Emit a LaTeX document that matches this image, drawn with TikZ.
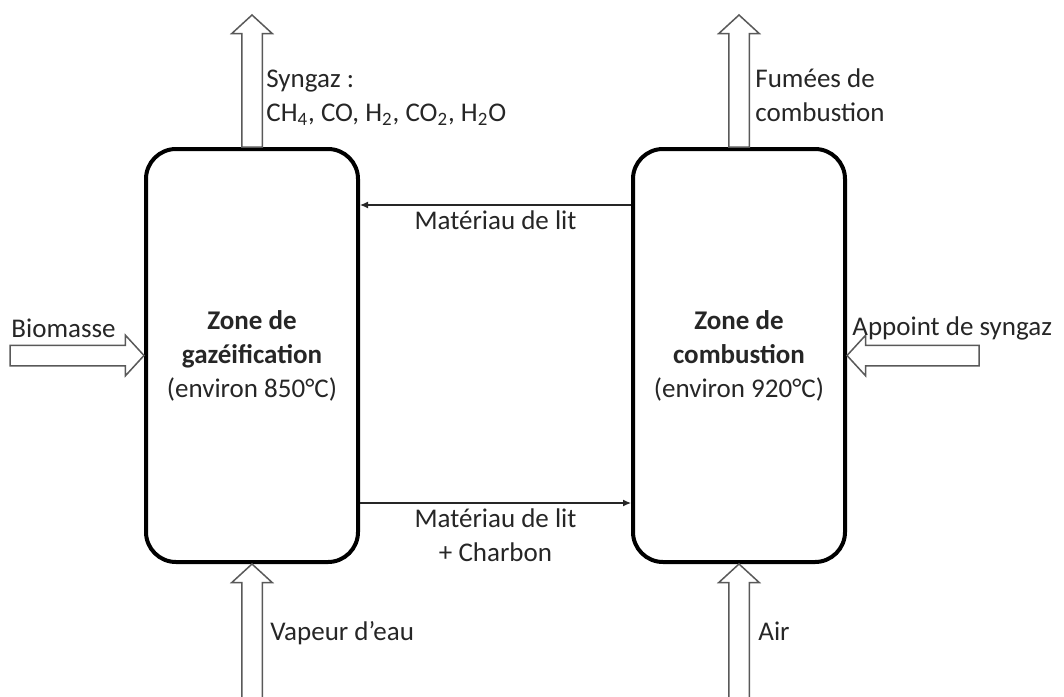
\documentclass[tikz,border=0pt]{standalone}
\usepackage{fontspec}
\setmainfont{Carlito}
\usetikzlibrary{shapes.arrows, arrows.meta, positioning}
\definecolor{gzInk}{HTML}{262626}
\definecolor{gzGray}{HTML}{595959}
\newcommand{\gzfont}{\fontsize{13.5}{17}\selectfont}
\tikzset{
  gzzone/.style={rectangle, rounded corners=15pt, draw=black, line width=2pt,
                 align=center, minimum width=106pt, minimum height=206.5pt,
                 text=gzInk, font=\gzfont},
  gzflux/.style={single arrow, draw=gzGray, fill=white, line width=0.75pt,
                 inner xsep=0pt, inner ysep=4.75pt, outer sep=0pt,
                 single arrow head extend=5pt, single arrow tip angle=95,
                 minimum width=19.5pt},
  gzlink/.style={-{Latex[length=4pt,width=3.5pt]}, line width=0.6pt, color=gzInk},
  gzlabel/.style={font=\gzfont, text=gzInk, inner sep=0pt, align=left},
}

\begin{document}
\begin{tikzpicture}[x=0.5pt, y=-0.5pt]
  \useasboundingbox (0,0) rectangle (1064,696);
  \node[gzzone] (gaz) at (252,355.5) {\textbf{Zone de}\\\textbf{gazéification}\\(environ 850°C)};
  \node[gzzone, right=135.5pt of gaz] (comb) {\textbf{Zone de}\\\textbf{combustion}\\(environ 920°C)};
  % flux entrants et sortants (flèches creuses)
  \node[gzflux, rotate=90, anchor=tail, minimum height=66pt] (synout) at (gaz.north) {};
  \node[gzflux, rotate=90, anchor=tail, minimum height=66pt] (fumout) at (comb.north) {};
  \node[gzflux, rotate=90, anchor=tip, minimum height=68pt] (vapin) at (gaz.south) {};
  \node[gzflux, rotate=90, anchor=tip, minimum height=68pt] (airin) at (comb.south) {};
  \node[gzflux, anchor=tip, minimum height=67pt] (bioin) at (gaz.west) {};
  \node[gzflux, rotate=180, anchor=tip, minimum height=66pt] (appin) at (comb.east) {};
  \draw[gzlink] ([yshift=75.25pt]comb.west) -- ([yshift=75.25pt]gaz.east)
    node[gzlabel, midway, anchor=base, yshift=-12pt] {Matériau de lit};
  \draw[gzlink] ([yshift=-73.75pt]gaz.east) -- ([yshift=-73.75pt]comb.west)
    node[gzlabel, align=center, midway, anchor=base, yshift=-29pt] {Matériau de lit\\+ Charbon};
  \node[gzlabel, anchor=base west] (synlbl) at (266,121) {Syngaz :\\CH\textsubscript{4}, CO, H\textsubscript{2}, CO\textsubscript{2}, H\textsubscript{2}O};
  \node[gzlabel, anchor=base west] (fumlbl) at (755,121) {Fumées de\\combustion};
  \node[gzlabel, anchor=base west] (biolbl) at (11,337) {Biomasse};
  \node[gzlabel, anchor=base west] (applbl) at (852,335) {Appoint de syngaz};
  \node[gzlabel, anchor=base west] (vaplbl) at (270,640) {Vapeur d’eau};
  \node[gzlabel, anchor=base west] (airlbl) at (758,640) {Air};
\end{tikzpicture}
\end{document}
